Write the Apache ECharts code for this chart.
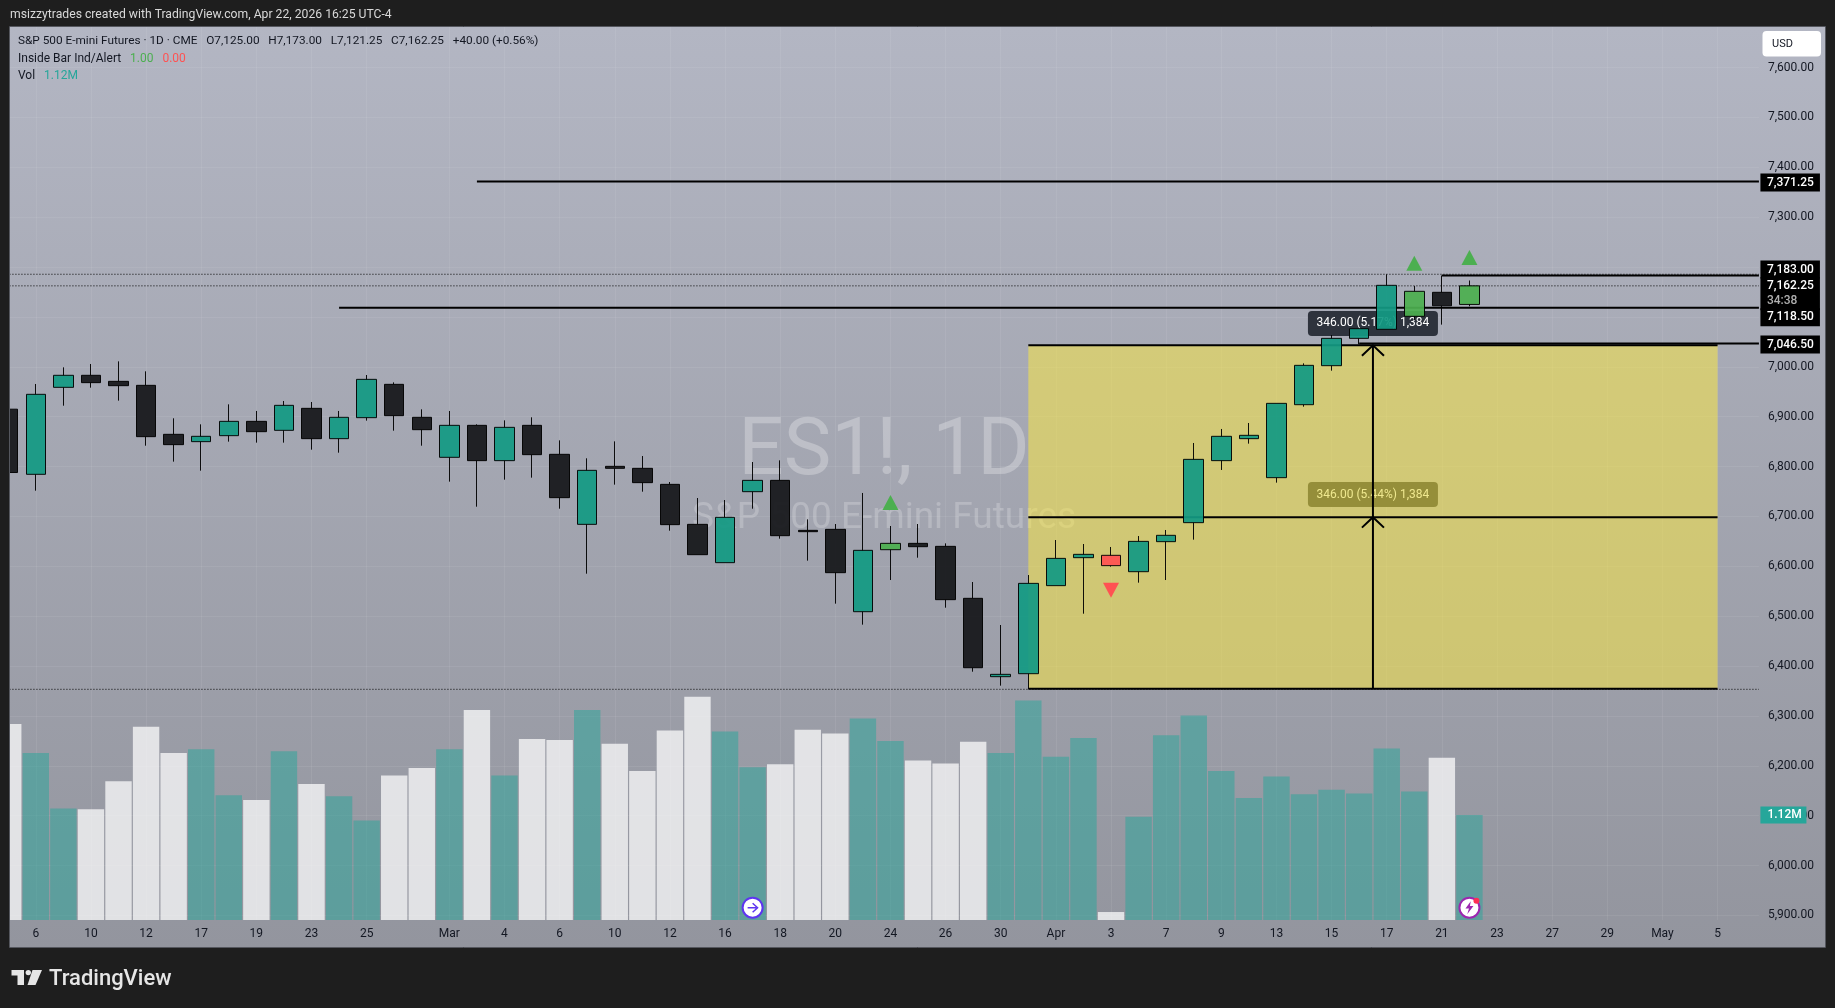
<!DOCTYPE html>
<html><head><meta charset="utf-8">
<style>html,body{margin:0;padding:0;background:#1e1e1e}#c{width:1835px;height:1008px}</style>
<script src="https://cdn.jsdelivr.net/npm/echarts@6/dist/echarts.min.js"></script>
</head><body><div id="c"></div>
<script>
const dates = ['Feb 5','Feb 6','Feb 9','Feb 10','Feb 11','Feb 12','Feb 13','Feb 17','Feb 18','Feb 19','Feb 20','Feb 23','Feb 24','Feb 25','Feb 26','Feb 27','Mar 2','Mar 3','Mar 4','Mar 5','Mar 6','Mar 9','Mar 10','Mar 11','Mar 12','Mar 13','Mar 16','Mar 17','Mar 18','Mar 19','Mar 20','Mar 23','Mar 24','Mar 25','Mar 26','Mar 27','Mar 30','Mar 31','Apr 1','Apr 2','Apr 3','Apr 6','Apr 7','Apr 8','Apr 9','Apr 10','Apr 13','Apr 14','Apr 15','Apr 16','Apr 17','Apr 20','Apr 21','Apr 22','Apr 23','Apr 24','Apr 27','Apr 28','Apr 29','Apr 30','May 1','May 4','May 5','May 6'];
const tickLabels = ['','6','','10','','12','','17','','19','','23','','25','','','Mar','','4','','6','','10','','12','','16','','18','','20','','24','','26','','30','','Apr','','3','','7','','9','','13','','15','','17','','21','','23','','27','','29','','May','','5',''];
const opens  = [6915,6784.4,6958.8,6982.9,6970.8,6962.8,6864.6,6849.9,6861.9,6890.6,6872.6,6916.7,6855.9,6898,6964.8,6898.7,6818.5,6882.6,6811.8,6882.6,6824.5,6684.1,6800.4,6796.4,6764.3,6684.1,6607.3,6749.6,6772.3,6672.1,6674.1,6509,6633.3,6646,6640,6535.8,6378.7,6384.7,6561.2,6617.3,6622,6589.2,6649.4,6687.5,6811.8,6855.9,6777.7,6924,7002.2,7057,7075.1,7101.2,7149.3,7125];
const closes = [6788,6944.8,6982.9,6968.2,6962.1,6859.9,6843.9,6860.6,6890.6,6869.9,6922.7,6855.9,6898.7,6974.8,6902,6873.9,6882.6,6811.8,6878.6,6823.8,6737.6,6792.4,6796.4,6767.7,6683.5,6623.3,6698.2,6772.3,6661.4,6669.4,6587.2,6632,6646,6639.3,6533.1,6396.7,6383.4,6565.8,6615.9,6624,6601.3,6650,6662.1,6814.4,6860.6,6862.6,6926.7,7002.9,7057,7076.4,7163.3,7151.3,7122.25,7162.25];
const lows   = [6770,6751.6,6922,6958.1,6932.1,6841.8,6809.8,6791.7,6849.9,6847.9,6847.9,6833.8,6827.8,6892,6871.9,6841.8,6769.7,6719.5,6773.7,6777.7,6715.5,6585.2,6763.7,6749.6,6671.4,6623.3,6607.3,6715.5,6655.4,6611.3,6525.1,6483,6572.5,6617.3,6517,6388.7,6360.7,6354,6561.2,6505,6599.3,6567.2,6572.5,6653.4,6793.1,6845.9,6767.7,6920,6992.2,7045,7075.1,7093.8,7084.5,7121.25];
const highs  = [6930,6965.5,6998.9,7005.6,7010.9,6990.9,6896.7,6884.6,6924.7,6911.4,6931.4,6929.4,6911.4,6983.5,6968.8,6914.7,6911.4,6884.6,6892.6,6898.7,6852.5,6816.5,6850.5,6821.1,6769,6736.9,6732.9,6809.1,6812.4,6694.1,6684.8,6747,6680.8,6684.8,6646,6568.5,6482.3,6582.5,6652.7,6644.7,6638.7,6660.7,6672.8,6847.2,6875.3,6887.3,6926.7,7006.9,7063.7,7076.4,7185.4,7162,7183,7173];
const volumes = [2.09,1.78,1.19,1.18,1.48,2.06,1.78,1.82,1.33,1.28,1.80,1.45,1.32,1.06,1.54,1.62,1.82,2.24,1.54,1.93,1.92,2.24,1.88,1.59,2.02,2.38,2.01,1.63,1.66,2.03,1.99,2.15,1.91,1.70,1.67,1.90,1.78,2.34,1.74,1.94,0.085,1.10,1.97,2.18,1.59,1.30,1.53,1.34,1.39,1.35,1.83,1.37,1.73,1.12];
const volumeDown = [1,0,0,1,1,1,1,0,0,1,0,1,0,0,1,1,0,1,0,1,1,0,1,1,1,1,0,0,1,1,1,0,0,1,1,1,0,0,0,0,1,0,0,0,0,0,0,0,0,0,0,0,1,0];
const insideUpDates = ['Mar 24','Apr 20','Apr 22'];
const insideDownDates = ['Apr 3'];
const priceTicks = [5900,6000,6100,6200,6300,6400,6500,6600,6700,6800,6900,7000,7100,7200,7300,7400,7500,7600];
const levels = {top:7371.25, high:7183, support:7118.5, target:7046.5, boxTop:7043, boxMid:6698.5, boxBottom:6354.5, dotHigh:7185.5, dotLast:7162.25, dotLow:6353.4};
const triangleUps = [[32,6727.9],[51,7207.5],[53,7219.3]];
const triangleDowns = [[40,6551.9]];

const TEAL='#139a83', BLACK='#16171a', GREEN='#4caf50', RED='#ff5252';
const FONT='Roboto';
const PRICE_MIN=5890.9, PRICE_MAX=7681.2, VOL_MAX=9.525;
const XMIN=-0.5, XMAX=63.5; // value axis that shares the band positions of the category axis

const candleData = opens.map((o,i)=>{
  const d = dates[i];
  const item = {value:[o,closes[i],lows[i],highs[i]]};
  if (insideUpDates.includes(d)) item.itemStyle={color:GREEN,color0:GREEN};
  if (insideDownDates.includes(d)) item.itemStyle={color:RED,color0:RED};
  return item;
});
const volData = volumes.map((v,i)=>({value:v,itemStyle:{color:volumeDown[i]?'rgba(255,255,255,0.72)':'rgba(38,166,154,0.5)'}}));

function hline(x0,x1,y,width,z,type,color){
  return {type:'line',xAxisIndex:1,yAxisIndex:0,data:[[x0,y],[x1,y]],showSymbol:false,symbol:'none',silent:true,animation:false,z:z,
    lineStyle:{color:color||'#000',width:width,type:type||'solid',cap:'butt'},clip:true};
}
function vpath(points,z){
  return {type:'line',xAxisIndex:1,yAxisIndex:0,data:points,showSymbol:false,symbol:'none',silent:true,animation:false,z:z,
    lineStyle:{color:'#000',width:2,cap:'butt',join:'miter'}};
}
function axisTag(y,fmt,dy,rich){
  return {value:[XMAX,y],label:{formatter:fmt,offset:[0,dy],rich:rich}};
}
const tagRich={a:{color:'#fff',fontFamily:FONT,fontSize:12,fontWeight:500,lineHeight:15},b:{color:'#b0b0b0',fontFamily:FONT,fontSize:12,lineHeight:15}};
const fmtP=v=>v.toLocaleString('en-US',{minimumFractionDigits:2,maximumFractionDigits:2});

const boxX0=37, boxX1=62, measureX=49.5, arrowDX=0.4, arrowDP=21;
const solid={opacity:1};
const series=[
  {type:'bar',name:'Vol',xAxisIndex:0,yAxisIndex:1,data:volData,barWidth:26.4,animation:false,silent:true,z:2},
  Object.assign(hline(boxX0,boxX1,levels.boxTop,2,2),{markArea:{silent:true,itemStyle:{color:'rgba(255,235,59,0.5)'},data:[[{coord:[boxX0,levels.boxTop]},{coord:[boxX1,levels.boxBottom]}]]}}),
  hline(boxX0,boxX1,levels.boxMid,2,2),
  hline(boxX0,boxX1,levels.boxBottom,2,2),
  hline(XMIN,XMAX,levels.dotHigh,1,2,[1,2],'#000'),
  hline(XMIN,XMAX,levels.dotLast,1,2,[1,2],'#000'),
  hline(XMIN,XMAX,levels.dotLow,1,2,[1,2],'#000'),
  hline(17,XMAX,levels.top,2,2),
  hline(12,XMAX,levels.support,2,2),
  hline(49,XMAX,levels.target,2,2),
  hline(52,XMAX,levels.high,2,2),
  {type:'scatter',xAxisIndex:1,yAxisIndex:0,symbolSize:0,silent:true,animation:false,z:2,clip:false,itemStyle:solid,
   data:[[measureX,7086.8]],label:{show:true,position:'inside',formatter:'346.00 (5.17%) 1,384',color:'#fff',fontFamily:FONT,fontSize:12,backgroundColor:'rgba(42,46,57,0.97)',borderRadius:4,padding:[6,9,6,9],width:112,height:13,align:'center',verticalAlign:'middle'}},
  {type:'scatter',xAxisIndex:1,yAxisIndex:0,symbolSize:0,silent:true,animation:false,z:3,clip:false,itemStyle:solid,
   data:[[measureX,6743.9]],label:{show:true,position:'inside',formatter:'346.00 (5.44%) 1,384',color:'#efe88f',fontFamily:FONT,fontSize:12,backgroundColor:'#958e3a',borderRadius:4,padding:[6,9,6,9],width:112,height:13,align:'center',verticalAlign:'middle'}},
  {type:'candlestick',name:'ES1!',xAxisIndex:0,yAxisIndex:0,data:candleData,barWidth:20,animation:false,silent:true,z:4,
   itemStyle:{color:TEAL,color0:BLACK,borderColor:'#000',borderColor0:'#000',borderColorDoji:'#000',borderWidth:1,opacity:0.93}},
  vpath([[measureX,levels.boxBottom],[measureX,levels.boxTop]],5),
  vpath([[measureX-arrowDX,levels.boxTop-arrowDP],[measureX,levels.boxTop],[measureX+arrowDX,levels.boxTop-arrowDP]],5),
  vpath([[measureX-arrowDX,levels.boxMid-arrowDP],[measureX,levels.boxMid],[measureX+arrowDX,levels.boxMid-arrowDP]],5),
  {type:'scatter',xAxisIndex:1,yAxisIndex:0,symbol:'triangle',symbolSize:[16,15],silent:true,animation:false,z:6,itemStyle:{color:GREEN,opacity:1},data:triangleUps},
  {type:'scatter',xAxisIndex:1,yAxisIndex:0,symbol:'triangle',symbolRotate:180,symbolSize:[16,15],silent:true,animation:false,z:6,itemStyle:{color:RED,opacity:1},data:triangleDowns},
  {type:'scatter',xAxisIndex:1,yAxisIndex:1,symbol:'circle',symbolSize:20,silent:true,animation:false,z:6,clip:false,
   data:[{value:[27,0.131],itemStyle:{color:'#fff',borderColor:'#5e35f0',borderWidth:2,opacity:1}},{value:[53,0.131],itemStyle:{color:'#fff',borderColor:'#9c27b0',borderWidth:2,opacity:1}}]},
  {type:'scatter',xAxisIndex:1,yAxisIndex:1,symbol:'path://M0 5L7 5M4 1L8 5L4 9',symbolSize:[10,9],silent:true,animation:false,z:7,
   itemStyle:{color:'none',borderColor:'#5e35f0',borderWidth:1.4,opacity:1},data:[[27,0.131]]},
  {type:'scatter',xAxisIndex:1,yAxisIndex:1,symbol:'path://M6 0L0 9L4 9L2 16L9 6L5 6Z',symbolSize:[8,13],silent:true,animation:false,z:7,
   itemStyle:{color:'#9c27b0',opacity:1},data:[[53,0.131]]},
  {type:'scatter',xAxisIndex:1,yAxisIndex:1,symbol:'circle',symbolSize:6,silent:true,animation:false,z:8,
   itemStyle:{color:'#ff2d55',opacity:1},symbolOffset:[7,-7],data:[[53,0.131]]},
  {type:'scatter',xAxisIndex:1,yAxisIndex:0,symbolSize:0,silent:true,animation:false,z:20,clip:false,itemStyle:solid,
   label:{show:true,position:'right',distance:1.5,backgroundColor:'#000',padding:[1.5,6,1.5,6.5],width:47,align:'left',verticalAlign:'middle',color:'#fff',fontFamily:FONT,fontSize:12,fontWeight:500},
   data:[
     axisTag(levels.top,'{a|'+fmtP(levels.top)+'}',1,tagRich),
     axisTag(levels.high,'{a|'+fmtP(levels.high)+'}',-6,tagRich),
     axisTag(levels.support,'{a|'+fmtP(levels.support)+'}',9.6,tagRich),
     axisTag(levels.dotLast,'{a|'+fmtP(levels.dotLast)+'}\n{b|34:38}',8,tagRich),
     axisTag(levels.target,'{a|'+fmtP(levels.target)+'}',1,tagRich)
   ]},
  {type:'scatter',xAxisIndex:1,yAxisIndex:1,symbolSize:0,silent:true,animation:false,z:20,clip:false,itemStyle:solid,
   data:[[XMAX,volumes[volumes.length-1]]],
   label:{show:true,position:'right',distance:1.5,backgroundColor:'#26a69a',padding:[2.5,7,2.5,7],width:32,align:'left',verticalAlign:'middle',color:'#fff',fontFamily:FONT,fontSize:12,fontWeight:500,formatter:'1.12M'}}
];

const chrome=[
  {type:'rect',z:-1,silent:true,shape:{x:10,y:27,width:1815,height:920},
   style:{fill:{type:'linear',x:0,y:0,x2:0,y2:1,colorStops:[{offset:0,color:'#b3b6c3'},{offset:1,color:'#93959e'}]}}},
  {type:'text',z:1,silent:true,x:884,y:454,style:{text:'ES1!, 1D',font:'80px '+FONT,fill:'rgba(255,255,255,0.28)',align:'center',verticalAlign:'middle'}},
  {type:'text',z:1,silent:true,x:884,y:519,style:{text:'S&P 500 E-mini Futures',font:'37px '+FONT,fill:'rgba(255,255,255,0.22)',align:'center',verticalAlign:'middle'}},
  {type:'rect',z:100,silent:true,shape:{x:0,y:0,width:10,height:1008},style:{fill:'#1e1e1e'}},
  {type:'rect',z:100,silent:true,shape:{x:0,y:0,width:1835,height:27},style:{fill:'#1e1e1e'}},
  {type:'rect',z:100,silent:true,shape:{x:1825,y:0,width:10,height:1008},style:{fill:'#1e1e1e'}},
  {type:'rect',z:100,silent:true,shape:{x:0,y:947,width:1835,height:61},style:{fill:'#1e1e1e'}},
  {type:'rect',z:101,silent:true,shape:{x:9.5,y:26.5,width:1816,height:921},style:{fill:'none',stroke:'#55575e',lineWidth:1}},
  {type:'text',z:102,silent:true,x:10,y:15,style:{text:'msizzytrades created with TradingView.com, Apr 22, 2026 16:25 UTC-4',font:'12.2px '+FONT,fill:'#d9d9d9',verticalAlign:'middle'}},
  {type:'text',z:102,silent:true,x:18,y:41.5,style:{text:'S&P 500 E-mini Futures · 1D · CME   O7,125.00   H7,173.00   L7,121.25   C7,162.25   +40.00 (+0.56%)',font:'11.8px '+FONT,fill:'#131722',verticalAlign:'middle'}},
  {type:'text',z:102,silent:true,x:18,y:58.5,style:{text:'{a|Inside Bar Ind/Alert  }{b| 1.00  }{c| 0.00}',verticalAlign:'middle',rich:{a:{font:'12px '+FONT,fill:'#131722'},b:{font:'12px '+FONT,fill:'#4caf50'},c:{font:'12px '+FONT,fill:'#ff5252'}}}},
  {type:'text',z:102,silent:true,x:18,y:75.5,style:{text:'{a|Vol  }{b| 1.12M}',verticalAlign:'middle',rich:{a:{font:'12px '+FONT,fill:'#131722'},b:{font:'12px '+FONT,fill:'#26a69a'}}}},
  {type:'rect',z:102,silent:true,shape:{x:1762.5,y:31,width:58.5,height:25.5,r:4},style:{fill:'#fff'}},
  {type:'text',z:103,silent:true,x:1772,y:44.5,style:{text:'USD',font:'11px '+FONT,fill:'#131722',verticalAlign:'middle'}},
  {type:'polygon',z:102,silent:true,shape:{points:[[11.5,970],[24,970],[24,985],[17.5,985],[17.5,975.5],[11.5,975.5]]},style:{fill:'#e6e6e6'}},
  {type:'circle',z:102,silent:true,shape:{cx:28.3,cy:972.6,r:2.7},style:{fill:'#e6e6e6'}},
  {type:'polygon',z:102,silent:true,shape:{points:[[32.5,970],[42,970],[35.5,985],[27.5,985]]},style:{fill:'#e6e6e6'}},
  {type:'text',z:102,silent:true,x:49,y:979,style:{text:'TradingView',font:'500 22px '+FONT,fill:'#e6e6e6',verticalAlign:'middle'}}
];

const chart=echarts.init(document.getElementById('c'),null,{renderer:'canvas'});
chart.setOption({
  animation:false,
  backgroundColor:'#1e1e1e',
  graphic:{elements:chrome},
  tooltip:{show:false},
  grid:{left:-5.555,top:27,width:1764.48,height:893,containLabel:false,outerBoundsMode:'none'},
  xAxis:[
    {type:'category',data:dates,boundaryGap:true,position:'bottom',axisLine:{show:false},axisTick:{show:false},
     axisLabel:{interval:0,hideOverlap:false,margin:8,color:'#131722',fontFamily:FONT,fontSize:12,formatter:(v,i)=>tickLabels[i]},
     splitLine:{show:true,alignWithLabel:true,interval:i=>tickLabels[i]!=='',lineStyle:{color:'rgba(255,255,255,0.07)',width:1}}},
    {type:'value',show:false,min:XMIN,max:XMAX,splitLine:{show:false},axisLine:{show:false},axisTick:{show:false},axisLabel:{show:false}}
  ],
  yAxis:[
    {type:'value',min:PRICE_MIN,max:PRICE_MAX,position:'right',axisLine:{show:false},axisTick:{show:false,customValues:priceTicks},
     axisLabel:{customValues:priceTicks,margin:9,color:'#131722',fontFamily:FONT,fontSize:12,formatter:fmtP,showMinLabel:true,showMaxLabel:true,hideOverlap:false},
     splitLine:{show:true,lineStyle:{color:'rgba(255,255,255,0.07)',width:1}}},
    {type:'value',min:0,max:VOL_MAX,show:false,splitLine:{show:false},axisLine:{show:false},axisTick:{show:false},axisLabel:{show:false}}
  ],
  series:series
});
</script></body></html>
